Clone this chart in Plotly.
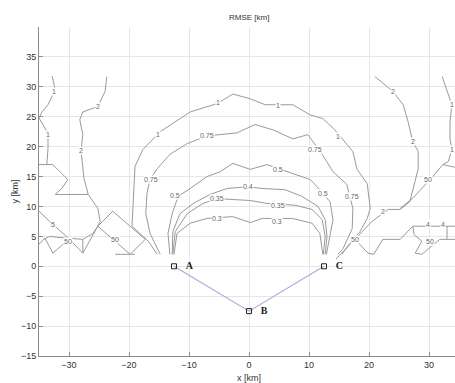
import plotly.graph_objects as go

# ---- station layout (km) ----
station_names = ["A", "B", "C"]
station_x = [-12.5, 0.0, 12.5]
station_y = [0.0, -7.5, 0.0]

# ---- RMSE contour lines (km), one list pair per traced level ----
c03_x = [-12.5, -12.0, -9.8, -7.0, -2.7, 0.2, 2.2, 7.2, 10.5, 11.8, 12.3]
c03_y = [2.0, 5.5, 7.2, 8.0, 8.3, 7.3, 8.0, 8.0, 7.2, 5.5, 2.0]

c035_x = [-12.7, -12.3, -10.3, -7.7, -5.3, -2.7, 0.2, 3.0, 7.7, 10.5, 12.2, 12.7, 12.4]
c035_y = [2.0, 5.8, 8.8, 10.5, 11.3, 11.2, 11.0, 10.5, 10.2, 9.5, 7.8, 5.0, 2.0]

c04_x = [-12.8, -12.7, -11.5, -9.3, -6.5, -3.7, -0.2, 2.2, 6.0, 8.8, 11.5, 12.7, 13.0, 12.7]
c04_y = [2.0, 5.8, 8.8, 10.5, 12.0, 13.0, 13.3, 13.0, 12.8, 11.7, 10.0, 7.8, 5.0, 2.0]

c05_x = [-13.2, -13.5, -12.8, -11.8, -9.8, -7.0, -4.8, -2.7, 0.2, 3.0, 7.3, 10.2, 11.8, 13.5, 14.0, 13.5, 12.9]
c05_y = [2.0, 5.5, 8.8, 11.7, 13.0, 15.0, 15.8, 17.2, 16.2, 17.0, 15.5, 14.5, 12.8, 10.8, 7.8, 5.0, 2.0]

c075_x = [-14.8, -16.5, -17.2, -17.0, -16.5, -15.3, -13.2, -10.3, -7.0, -2.0, 1.0, 4.0, 7.3,
          9.8, 12.2, 14.0, 16.3, 17.3, 17.2, 15.7, 14.8]
c075_y = [2.0, 5.5, 8.8, 12.2, 14.5, 16.3, 18.7, 20.5, 21.8, 22.3, 23.7, 22.8, 21.3,
          22.0, 18.7, 15.8, 13.7, 9.7, 6.3, 3.0, 2.0]

c1_x = [-15.3, -16.8, -19.5, -19.3, -19.0, -17.7, -14.8, -9.8, -5.3, -2.7, 0.2, 2.7, 7.3,
        10.2, 12.3, 14.3, 16.0, 17.3, 18.0, 19.7, 20.2, 19.7, 18.5, 16.8, 15.5]
c1_y = [2.0, 4.2, 6.7, 11.7, 16.7, 19.5, 22.5, 25.8, 27.2, 28.8, 28.0, 27.0, 27.0,
        25.3, 24.7, 22.8, 20.8, 19.2, 16.2, 13.8, 9.7, 8.0, 5.8, 3.8, 2.0]

# outer levels on the western side
w1a_x = [-32.8, -32.3, -33.5, -34.5, -35.0, -33.5, -33.5, -33.7]
w1a_y = [31.8, 29.5, 27.0, 25.8, 24.8, 22.2, 19.7, 17.0]

w1b_x = [-35.0, -32.7, -30.2, -31.2, -32.3, -26.8]
w1b_y = [17.0, 17.0, 14.5, 13.0, 12.0, 12.0]

w2_x = [-23.7, -24.0, -25.2, -27.7, -28.2, -27.7, -28.0, -27.7, -27.5, -26.8, -25.2, -24.8,
        -25.2, -26.0, -27.7, -31.5, -33.2, -34.2]
w2_y = [31.7, 29.2, 26.7, 25.8, 24.5, 22.0, 19.3, 17.0, 14.7, 12.0, 9.7, 7.5,
        6.7, 5.5, 4.5, 4.8, 5.0, 4.5]

w50a_x = [-35.0, -32.7, -30.2, -27.7, -27.7]
w50a_y = [9.2, 7.0, 4.8, 2.2, 4.5]

w50b_x = [-35.0, -34.0, -32.7, -31.2, -29.8]
w50b_y = [3.7, 4.7, 2.2, 3.5, 4.5]

w50c_x = [-27.7, -25.2, -22.7, -17.3, -19.8, -25.2]
w50c_y = [2.2, 6.7, 9.2, 4.5, 2.0, 6.7]

w50d_x = [-22.3, -19.0]
w50d_y = [2.0, 2.0]

# outer levels on the eastern side
e2_x = [21.0, 24.0, 25.7, 26.5, 27.3, 28.2, 28.2, 27.7, 26.8, 25.2, 23.2, 20.5, 17.7, 15.7, 14.5]
e2_y = [31.7, 29.2, 27.0, 24.2, 20.8, 19.2, 16.3, 14.2, 10.8, 9.5, 9.5, 7.5, 4.5, 2.5, 1.2]

e1_x = [32.2, 33.0, 33.8, 33.5, 33.5, 33.8, 33.2, 32.3, 30.2, 27.2, 25.2]
e1_y = [31.7, 29.2, 27.0, 24.2, 21.3, 19.5, 17.5, 17.0, 14.5, 11.3, 9.7]

e1b_x = [32.3, 34.5]
e1b_y = [17.0, 16.5]

e50a_x = [17.7, 19.8, 20.8, 22.3, 25.2, 27.3, 34.7]
e50a_y = [4.5, 2.2, 2.0, 4.5, 4.5, 6.7, 6.7]

e50b_x = [27.3, 27.5, 28.8, 27.7, 28.8, 31.8, 33.0, 33.0]
e50b_y = [6.7, 5.3, 4.2, 2.2, 2.0, 4.5, 4.5, 6.7]

e50c_x = [33.0, 34.7]
e50c_y = [4.5, 4.5]

contour_lines = [
    (c03_x, c03_y), (c035_x, c035_y), (c04_x, c04_y), (c05_x, c05_y),
    (c075_x, c075_y), (c1_x, c1_y),
    (w1a_x, w1a_y), (w1b_x, w1b_y), (w2_x, w2_y),
    (w50a_x, w50a_y), (w50b_x, w50b_y), (w50c_x, w50c_y), (w50d_x, w50d_y),
    (e2_x, e2_y), (e1_x, e1_y), (e1b_x, e1b_y),
    (e50a_x, e50a_y), (e50b_x, e50b_y), (e50c_x, e50c_y),
]

# inline level labels
label_text = ["1", "1", "1", "1", "0.75", "0.75", "0.75", "0.75", "0.5", "0.5", "0.5",
              "0.4", "0.35", "0.35", "0.3", "0.3",
              "1", "1", "2", "2", "5", "50", "50",
              "2", "2", "2", "1", "1", "50", "50", "50", "4", "4"]
label_x = [-15.2, -5.2, 4.8, 14.8, -16.3, -7.0, 11.0, 17.2, -12.3, 4.8, 12.3,
           -0.2, -5.3, 4.8, -5.3, 4.7,
           -32.5, -33.5, -25.2, -28.0, -32.7, -30.2, -22.3,
           24.0, 27.3, 22.3, 33.8, 33.8, 29.8, 17.7, 30.2, 29.8, 32.3]
label_y = [22.0, 27.3, 26.8, 21.7, 14.5, 21.8, 19.5, 11.7, 11.8, 16.2, 12.2,
           13.3, 11.3, 10.2, 8.0, 7.5,
           29.3, 22.0, 26.7, 19.3, 7.0, 4.2, 4.5,
           29.2, 20.8, 9.2, 27.0, 19.5, 14.5, 4.5, 4.2, 7.0, 7.0]

x_ticks = [-30, -20, -10, 0, 10, 20, 30]
y_ticks = [-15, -10, -5, 0, 5, 10, 15, 20, 25, 30, 35]

line_gray = "#9a9a9a"
fig = go.Figure()

for xs, ys in contour_lines:
    fig.add_trace(go.Scatter(x=xs, y=ys, mode="lines",
                             line=dict(color=line_gray, width=1),
                             hoverinfo="skip"))

# baseline connecting the stations
fig.add_trace(go.Scatter(x=station_x, y=station_y, mode="lines",
                         line=dict(color="#a8a8dc", width=1.1), hoverinfo="skip"))
fig.add_trace(go.Scatter(
    x=station_x, y=station_y, mode="markers+text",
    marker=dict(symbol="square-open", size=5, color="#222", line=dict(width=1)),
    text=["   <b>" + n + "</b>" for n in station_names], textposition="middle right",
    textfont=dict(family="Liberation Serif", size=10, color="#222"),
    hoverinfo="skip"))

annotations = []
for t, lx, ly in zip(label_text, label_x, label_y):
    annotations.append(dict(x=lx, y=ly, xref="x", yref="y", text=t, showarrow=False,
                            font=dict(family="Liberation Sans", size=7, color="#666"),
                            bgcolor="white", borderpad=0))

annotations += [
    dict(text="RMSE [km]", x=0, xref="x", y=1, yref="paper", yshift=10,
         showarrow=False, yanchor="middle",
         font=dict(family="Liberation Sans", size=8, color="#333")),
    dict(text="x [km]", x=0, xref="x", y=0, yref="paper", yshift=-22,
         showarrow=False, yanchor="middle",
         font=dict(family="Liberation Sans", size=9, color="#333")),
    dict(text="y [km]", x=0, xref="paper", xshift=-25, y=12.5, yref="y",
         showarrow=False, textangle=-90, xanchor="center",
         font=dict(family="Liberation Sans", size=9, color="#333")),
]

axis_common = dict(showgrid=True, gridcolor="#e6e6e6", gridwidth=1, zeroline=False,
                   showline=True, linecolor="#8c8c8c", linewidth=1,
                   ticks="inside", ticklen=4, tickcolor="#8c8c8c",
                   tickfont=dict(family="Liberation Sans", size=9, color="#333"))

fig.update_layout(
    width=455, height=383,
    margin=dict(l=39, r=0, t=27, b=27),
    plot_bgcolor="white", paper_bgcolor="white",
    showlegend=False,
    xaxis=dict(range=[-35, 34.33], tickvals=x_ticks, **axis_common),
    yaxis=dict(range=[-15, 40], tickvals=y_ticks, **axis_common),
    annotations=annotations,
)

fig.write_html("out.html")
